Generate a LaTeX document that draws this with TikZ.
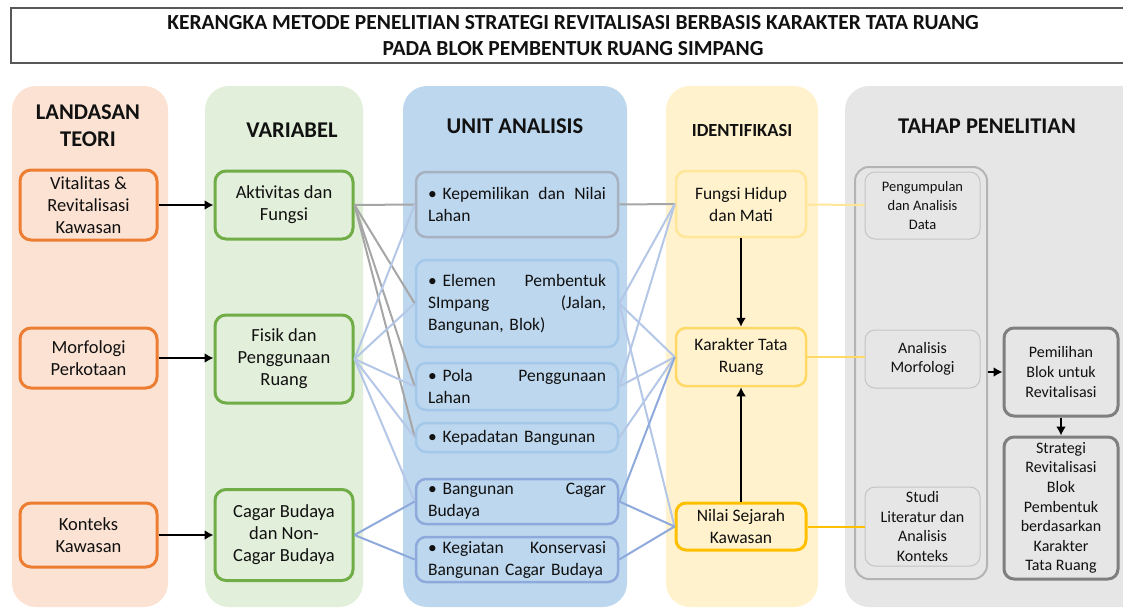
\documentclass[tikz,border=0pt]{standalone}
\usepackage{fontspec}
\setmainfont{Carlito}
\usepackage{tikz}
\usetikzlibrary{arrows.meta,positioning}
\definecolor{Ink}{HTML}{111111}
\definecolor{PeachSoft}{HTML}{FBE2D2}
\definecolor{Orange}{HTML}{ED7D31}
\definecolor{GreenSoft}{HTML}{E2EFDA}
\definecolor{Green}{HTML}{70AD47}
\definecolor{BlueSoft}{HTML}{BDD7EE}
\definecolor{BlueLine}{HTML}{A4C8EA}
\definecolor{BlueDeep}{HTML}{8EA9DB}
\definecolor{BlueGrey}{HTML}{A7B1C0}
\definecolor{LinkBlue}{HTML}{B4C7E7}
\definecolor{LinkGrey}{HTML}{A6A6A6}
\definecolor{YellowSoft}{HTML}{FFF2CC}
\definecolor{YellowA}{HTML}{FFE699}
\definecolor{YellowB}{HTML}{FFD966}
\definecolor{Gold}{HTML}{FFC000}
\definecolor{GreySoft}{HTML}{E7E6E6}
\definecolor{GreyLine}{HTML}{C4C4C4}
\definecolor{GreyMid}{HTML}{B4B4B4}
\definecolor{GreyDark}{HTML}{7F7F7F}
\tikzset{
  panel/.style={rounded corners=24pt,minimum height=521pt,inner sep=0pt},
  header/.style={font=\bfseries\fontsize{22.5}{27}\selectfont,align=center,text=Ink},
  teori/.style={draw=Orange,fill=PeachSoft,line width=3pt,rounded corners=11pt,minimum width=137pt,align=center,text=Ink,font=\fontsize{18.5}{22}\selectfont},
  vari/.style={teori,draw=Green,fill=GreenSoft,minimum width=138pt},
  unitbox/.style={draw=BlueLine,fill=BlueSoft,line width=2.5pt,rounded corners=10pt,minimum width=202pt,text width=178pt,align=left,text=Ink,font=\fontsize{17.5}{22}\selectfont},
  iden/.style={draw=YellowA,fill=YellowSoft,line width=2.5pt,rounded corners=10pt,minimum width=130pt,align=center,text=Ink,font=\fontsize{17.5}{22}\selectfont},
  tahap/.style={draw=GreyLine,fill=GreySoft,line width=1pt,rounded corners=10pt,minimum width=115pt,align=center,text=Ink,font=\fontsize{16}{19.6}\selectfont},
  hasil/.style={tahap,draw=GreyDark,line width=3pt,minimum width=114pt},
  arrow/.style={-{Latex[length=9pt,width=10pt]},line width=2.2pt,draw=black},
  linkgrey/.style={line width=2pt,draw=LinkGrey},
  linkblue/.style={line width=2pt,draw=LinkBlue},
  linkdeep/.style={line width=2pt,draw=BlueDeep},
  linkyel/.style={line width=2pt}
}
\begin{document}
\begin{tikzpicture}[x=1pt,y=-1pt]
  \useasboundingbox (0,0) rectangle (1123,610);
  \node[draw=Ink!70,line width=1.2pt,minimum width=1124pt,minimum height=55pt,align=center,text=Ink,font=\bfseries\fontsize{21.5}{26}\selectfont] (judul) at (573,35.5) {KERANGKA METODE PENELITIAN STRATEGI REVITALISASI BERBASIS KARAKTER TATA RUANG\\PADA BLOK PEMBENTUK RUANG SIMPANG};
  \node[panel,fill=PeachSoft,minimum width=156pt] (pLT) at (90,346.5) {};
  \node[panel,fill=GreenSoft,minimum width=158pt] (pVar) at (284,346.5) {};
  \node[panel,fill=BlueSoft,minimum width=224pt] (pUA) at (515,346.5) {};
  \node[panel,fill=YellowSoft,minimum width=152pt] (pId) at (742,346.5) {};
  \node[panel,fill=GreySoft,minimum width=305pt] (pTP) at (997.5,346.5) {};
  \node[header] (hLT) at (88,126) {LANDASAN\\TEORI};
  \node[header] (hVar) at (292,130) {VARIABEL};
  \node[header] (hUA) at (515,126) {UNIT ANALISIS};
  \node[header,font=\bfseries\fontsize{18.5}{22}\selectfont] (hId) at (742,130) {IDENTIFIKASI};
  \node[header] (hTP) at (987,126) {TAHAP PENELITIAN};

  \node[teori,minimum height=70pt] (vital) at (88.5,205) {Vitalitas \&\\Revitalisasi\\Kawasan};
  \node[teori,minimum height=60pt] (morf) at (88.5,358) {Morfologi\\Perkotaan};
  \node[teori,minimum height=64pt] (konteks) at (88.5,535) {Konteks\\Kawasan};
  \node[vari,minimum height=68pt] (aktiv) at (284,205) {Aktivitas dan\\Fungsi};
  \node[vari,minimum height=88pt] (fisik) at (284,359) {Fisik dan\\Penggunaan\\Ruang};
  \node[vari,minimum height=91pt] (cagar) at (284,535) {Cagar Budaya\\dan Non-\\Cagar Budaya};

  \node[unitbox,draw=BlueGrey,minimum height=65pt] (kepem) at (517,204.5) {• Kepemilikan\hfill dan\hfill Nilai\\Lahan};
  \node[unitbox,minimum height=87pt] (elemen) at (517,303.5) {• Elemen\hfill Pembentuk\\SImpang\hfill (Jalan,\\Bangunan, Blok)};
  \node[unitbox,minimum height=47pt] (pola) at (517,386.5) {• Pola\hfill Penggunaan\\Lahan};
  \node[unitbox,minimum height=29pt] (padat) at (517,437.5) {• Kepadatan Bangunan};
  \node[unitbox,draw=BlueDeep,minimum height=45pt] (bcagar) at (517,501.5) {• Bangunan\hfill Cagar\\Budaya};
  \node[unitbox,draw=BlueDeep,minimum height=45pt] (konserv) at (517,559.5) {• Kegiatan\hfill Konservasi\\Bangunan Cagar Budaya};

  \node[iden,minimum height=66pt] (fungsi) at (741,204) {Fungsi Hidup\\dan Mati};
  \node[iden,draw=YellowB,minimum height=58pt] (karakter) at (741,357) {Karakter Tata\\Ruang};
  \node[iden,draw=Gold,line width=3pt,minimum height=47pt] (nilai) at (741,526.5) {Nilai Sejarah\\Kawasan};

  \node[draw=GreyMid,line width=2pt,rounded corners=14pt,minimum width=132pt,minimum height=412pt,inner sep=0pt] (tcol) at (921,373) {};
  \node[tahap,minimum height=67pt,font=\fontsize{14.5}{19}\selectfont] (kumpul) at (922.5,205.5) {Pengumpulan\\dan Analisis\\Data};
  \node[tahap,minimum height=58pt] (morfan) at (922.5,359) {Analisis\\Morfologi};
  \node[tahap,minimum height=79pt] (studi) at (922.5,526.5) {Studi\\Literatur dan\\Analisis\\Konteks};
  \node[hasil,minimum height=88pt] (pilih) at (1061,372) {Pemilihan\\Blok untuk\\Revitalisasi};
  \node[hasil,minimum height=142pt] (strat) at (1061,508) {Strategi\\Revitalisasi\\Blok\\Pembentuk\\berdasarkan\\Karakter\\Tata Ruang};

  \draw[arrow] (vital)--(aktiv); \draw[arrow] (morf.east)--(morf.east-|fisik.west); \draw[arrow] (konteks)--(cagar);
  \draw[linkgrey] (aktiv.east)--(kepem.west); \draw[linkgrey] (aktiv.east)--(elemen.west);
  \draw[linkgrey] (aktiv.east)--(pola.west); \draw[linkgrey] (aktiv.east)--(padat.west);
  \draw[linkblue] (fisik.east)--(kepem.west); \draw[linkblue] (fisik.east)--(elemen.west); \draw[linkblue] (fisik.east)--(pola.west);
  \draw[linkblue] (fisik.east)--(padat.west); \draw[linkblue] (fisik.east)--(bcagar.west);
  \draw[linkdeep] (cagar.east)--(bcagar.west); \draw[linkdeep] (cagar.east)--(konserv.west);
  \draw[linkgrey] (kepem.east)--(fungsi.west);
  \draw[linkblue] (elemen.east)--(fungsi.west); \draw[linkblue] (elemen.east)--(karakter.west); \draw[linkblue] (elemen.east)--(nilai.west);
  \draw[linkblue] (pola.east)--(fungsi.west); \draw[linkblue] (pola.east)--(karakter.west); \draw[linkblue] (padat.east)--(karakter.west);
  \draw[linkdeep] (bcagar.east)--(karakter.west); \draw[linkdeep] (bcagar.east)--(nilai.west); \draw[linkdeep] (konserv.east)--(nilai.west);
  \draw[arrow] (fungsi)--(karakter); \draw[arrow] (nilai)--(karakter);
  \draw[linkyel,draw=YellowA] (fungsi)--(kumpul); \draw[linkyel,draw=YellowB] (karakter.east)--(karakter.east-|morfan.west); \draw[linkyel,draw=Gold] (nilai)--(studi);
  \draw[arrow] (pilih.west-|tcol.east)--(pilih.west); \draw[arrow] (pilih)--(strat);
\end{tikzpicture}
\end{document}
